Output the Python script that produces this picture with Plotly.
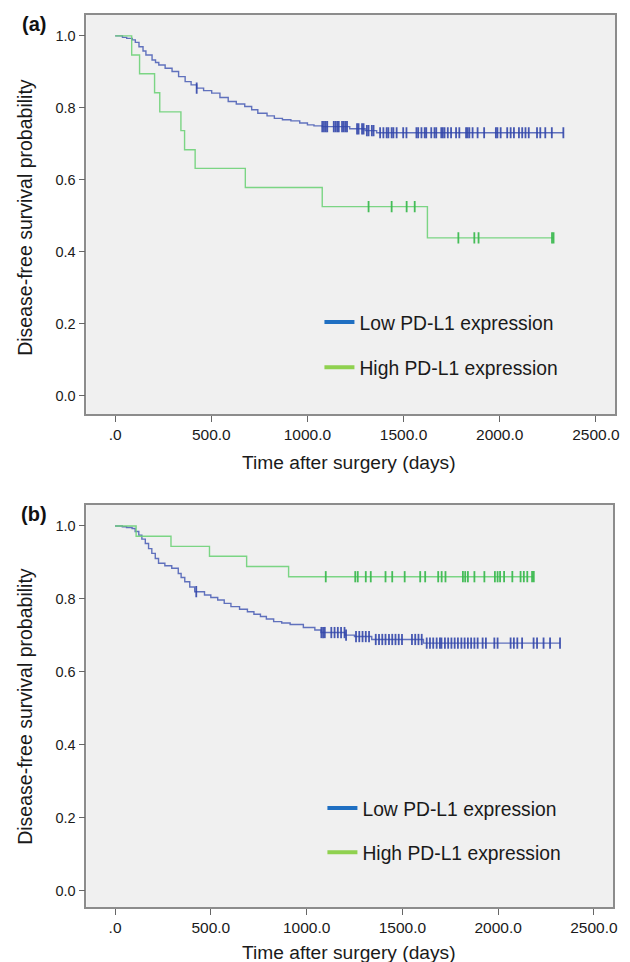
import numpy as np
import plotly.graph_objects as go

# ---------------- data ----------------
# Panel (a)
low_a_time = [0, 38, 60, 89, 105, 124, 145, 160, 192, 210, 227, 260, 296, 330, 364, 395, 424,
              460, 502, 545, 588, 630, 674, 710, 742, 790, 828, 870, 914, 960, 1000, 1034, 1077,
              1220, 1300, 1360]
low_a_surv = [1.0, 0.996, 0.993, 0.989, 0.982, 0.970, 0.958, 0.947, 0.933, 0.926, 0.919, 0.910,
              0.901, 0.887, 0.873, 0.864, 0.855, 0.848, 0.841, 0.829, 0.818, 0.811, 0.804, 0.795,
              0.785, 0.778, 0.771, 0.767, 0.764, 0.758, 0.753, 0.750, 0.748, 0.742, 0.737, 0.731]
low_a_cens = [424, 1077, 1086, 1095, 1103, 1137, 1146, 1155, 1163, 1180, 1189, 1198, 1206, 1258,
              1266, 1284, 1292, 1309, 1318, 1335, 1344, 1378, 1395, 1412, 1421, 1438, 1447, 1464,
              1498, 1515, 1567, 1576, 1593, 1610, 1618, 1644, 1661, 1670, 1696, 1704, 1713, 1730,
              1747, 1773, 1790, 1825, 1833, 1842, 1859, 1885, 1919, 1980, 1988, 2005, 2039, 2057,
              2074, 2100, 2117, 2134, 2151, 2194, 2211, 2237, 2271, 2331]

high_a_time = [0, 86, 127, 205, 232, 342, 361, 416, 677, 1077, 1624]
high_a_surv = [1.0, 0.947, 0.895, 0.842, 0.789, 0.737, 0.684, 0.632, 0.579, 0.526, 0.439]
high_a_cens = [1318, 1438, 1516, 1558, 1785, 1868, 1890, 2272, 2280]

# Panel (b)
low_b_time = [0, 38, 60, 89, 105, 124, 140, 158, 175, 192, 210, 227, 260, 296, 330, 345, 364,
              390, 416, 467, 500, 536, 570, 605, 650, 691, 725, 759, 790, 828, 870, 914, 983,
              1043, 1075, 1200, 1250, 1340, 1610]
low_b_surv = [1.0, 0.998, 0.996, 0.993, 0.985, 0.975, 0.964, 0.952, 0.938, 0.925, 0.911, 0.898,
              0.891, 0.884, 0.870, 0.859, 0.847, 0.833, 0.820, 0.811, 0.804, 0.797, 0.788, 0.779,
              0.772, 0.765, 0.758, 0.752, 0.745, 0.738, 0.734, 0.730, 0.722, 0.715, 0.708, 0.701,
              0.697, 0.689, 0.679]
low_b_cens = [424, 1077, 1086, 1095, 1129, 1146, 1163, 1180, 1198, 1206, 1258, 1275, 1292, 1309,
              1326, 1361, 1378, 1395, 1412, 1430, 1447, 1464, 1481, 1498, 1550, 1567, 1584, 1601,
              1627, 1644, 1661, 1679, 1696, 1704, 1722, 1739, 1756, 1773, 1790, 1808, 1825, 1842,
              1859, 1876, 1893, 1919, 1936, 1980, 1997, 2065, 2082, 2100, 2125, 2185, 2203, 2237,
              2271, 2323]

high_b_time = [0, 110, 292, 493, 687, 906]
high_b_surv = [1.0, 0.972, 0.944, 0.917, 0.889, 0.861]
high_b_cens = [1100, 1254, 1267, 1309, 1335, 1412, 1447, 1512, 1593, 1619, 1687, 1705, 1725,
               1816, 1828, 1842, 1876, 1928, 1983, 1997, 2010, 2031, 2074, 2117, 2134, 2152,
               2177, 2186]

x_tickvals = [0, 500, 1000, 1500, 2000, 2500]
x_ticktext = [".0", "500.0", "1000.0", "1500.0", "2000.0", "2500.0"]
y_tickvals = [0.0, 0.2, 0.4, 0.6, 0.8, 1.0]
y_ticktext = ["0.0", "0.2", "0.4", "0.6", "0.8", "1.0"]

series_names = ["Low PD-L1 expression", "High PD-L1 expression"]

# ---------------- styling ----------------
W, H = 630, 962
FONT = "Liberation Sans, Arial, sans-serif"
LOW_CURVE = "rgba(70,90,180,0.85)"
LOW_MARK = "rgba(50,70,170,0.9)"
HIGH_CURVE = "rgba(110,210,120,0.9)"
HIGH_MARK = "rgba(60,185,80,0.95)"
LEG_LOW = "#1f6fc2"
LEG_HIGH = "#8fd14f"
TXT = "#1a1a1a"


def surv_at(times, surv, t):
    idx = np.searchsorted(np.asarray(times), np.asarray(t), side="right") - 1
    return np.asarray(surv)[idx]


fig = go.Figure()


def add_group(times, surv, cens, xa, ya, lcol, mcol):
    end = max(cens) if cens else times[-1]
    fig.add_trace(go.Scatter(
        x=list(times) + [end], y=list(surv) + [surv[-1]], mode="lines",
        line=dict(color=lcol, width=1.4, shape="hv"), xaxis=xa, yaxis=ya,
        showlegend=False, hoverinfo="skip"))
    fig.add_trace(go.Scatter(
        x=cens, y=surv_at(times, surv, cens), mode="markers",
        marker=dict(symbol="line-ns", size=8, line=dict(color=mcol, width=1.8)),
        xaxis=xa, yaxis=ya, showlegend=False, hoverinfo="skip"))


add_group(low_a_time, low_a_surv, low_a_cens, "x", "y", LOW_CURVE, LOW_MARK)
add_group(high_a_time, high_a_surv, high_a_cens, "x", "y", HIGH_CURVE, HIGH_MARK)
add_group(low_b_time, low_b_surv, low_b_cens, "x2", "y2", LOW_CURVE, LOW_MARK)
add_group(high_b_time, high_b_surv, high_b_cens, "x2", "y2", HIGH_CURVE, HIGH_MARK)

# legend entries
for lg, xa, ya in [("legend", "x", "y"), ("legend2", "x2", "y2")]:
    for name, col in zip(series_names, [LEG_LOW, LEG_HIGH]):
        fig.add_trace(go.Scatter(
            x=[None], y=[None], mode="lines", name=name,
            line=dict(color=col, width=4), xaxis=xa, yaxis=ya,
            legend=lg, legendgroup=lg + name, showlegend=True))


def px_x(p):
    return p / W


def px_y(p):
    return 1 - p / H


def axis_common(size):
    return dict(
        showline=True, mirror=True, linecolor="#8c8c8c", linewidth=1.6,
        ticks="outside", ticklen=6, tickwidth=1, tickcolor="#666",
        showgrid=False, zeroline=False,
        tickfont=dict(family=FONT, size=size, color=TXT),
    )


fig.update_layout(
    width=W, height=H,
    margin=dict(l=0, r=0, t=0, b=0),
    paper_bgcolor="white",
    plot_bgcolor="#f0f0f0",
    font=dict(family=FONT, color=TXT),
    xaxis=dict(domain=[px_x(87), px_x(620)], range=[-150, 2600], anchor="y",
               tickvals=x_tickvals, ticktext=x_ticktext, **axis_common(15.5)),
    yaxis=dict(domain=[px_y(414), px_y(15)], range=[-0.05, 1.058], anchor="x",
               tickvals=y_tickvals, ticktext=y_ticktext, **axis_common(14.5)),
    xaxis2=dict(domain=[px_x(87), px_x(618)], range=[-150, 2600], anchor="y2",
                tickvals=x_tickvals, ticktext=x_ticktext, **axis_common(15.5)),
    yaxis2=dict(domain=[px_y(907), px_y(505)], range=[-0.044, 1.0575], anchor="x2",
                tickvals=y_tickvals, ticktext=y_ticktext, **axis_common(14.5)),
    legend=dict(x=px_x(322), y=px_y(303), xanchor="left", yanchor="top",
                bgcolor="rgba(0,0,0,0)", font=dict(family=FONT, size=19.3, color=TXT),
                traceorder="grouped", tracegroupgap=17),
    legend2=dict(x=px_x(325), y=px_y(789), xanchor="left", yanchor="top",
                 bgcolor="rgba(0,0,0,0)", font=dict(family=FONT, size=19.3, color=TXT),
                 traceorder="grouped", tracegroupgap=16),
)

ann = []
for cy in [217, 706]:
    ann.append(dict(text="Disease-free survival probability", x=px_x(25), y=px_y(cy),
                    xref="paper", yref="paper", showarrow=False, textangle=-90,
                    font=dict(family=FONT, size=19.5, color=TXT),
                    xanchor="center", yanchor="middle"))
for cy in [462, 952]:
    ann.append(dict(text="Time after surgery (days)", x=px_x(352), y=px_y(cy),
                    xref="paper", yref="paper", showarrow=False,
                    font=dict(family=FONT, size=19.2, color=TXT),
                    xanchor="center", yanchor="middle"))
for label, cy in [("(a)", 24), ("(b)", 514)]:
    ann.append(dict(text="<b>%s</b>" % label, x=px_x(34), y=px_y(cy),
                    xref="paper", yref="paper", showarrow=False,
                    font=dict(family=FONT, size=20, color="#111"),
                    xanchor="center", yanchor="middle"))
fig.update_layout(annotations=ann)

fig.write_html("out.html", post_script="document.body.style.margin='0';",
               config={"displayModeBar": False})
